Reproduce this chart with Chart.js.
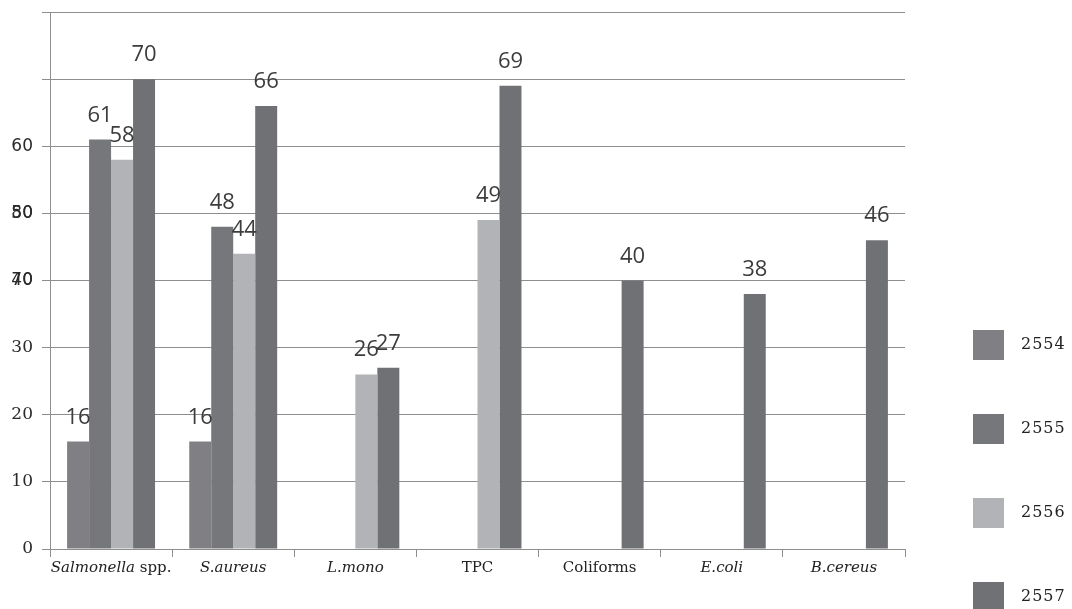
<!DOCTYPE html>
<html>
<head>
<meta charset="utf-8">
<script src="https://cdn.jsdelivr.net/npm/chart.js@4/dist/chart.umd.min.js"></script>
<style>
  html, body { margin: 0; padding: 0; background: #fff; overflow: hidden; }
  #wrap { width: 1072px; height: 609px; position: relative; }
</style>
</head>
<body>
<div id="wrap"><canvas id="myChart"></canvas></div>
<script>
// categories (italic part is the species name, the rest is roman)
const categories = ["Salmonella spp.", "S.aureus", "L.mono", "TPC", "Coliforms", "E.coli", "B.cereus"];
const italicParts = ["Salmonella", "S.aureus", "L.mono", "", "", "E.coli", "B.cereus"];

// series values, one array per year
const years = ["2554", "2555", "2556", "2557"];
const v2554 = [16, 16, null, null, null, null, null];
const v2555 = [61, 48, null, null, null, null, null];
const v2556 = [58, 44, 26, 49, null, null, null];
const v2557 = [70, 66, 27, 69, 40, 38, 46];
const barColors = ["#808084", "#76777b", "#b2b3b6", "#707175"];

// y axis: labels shown up to 60, plus the two stray labels printed over 40 and 50
const yMax = 80;
const yStep = 10;
const yLastLabel = 60;
const strayLabels = ["70", "80"];
const strayAt = [40, 50];

const gridColor = "#8e8e8e";
const serif = "'DejaVu Serif', serif";
const sans = "'DejaVu Sans', sans-serif";

// numbers on top of the bars
const valueLabels = {
  id: "valueLabels",
  afterDatasetsDraw(chart) {
    const ctx = chart.ctx;
    ctx.save();
    ctx.font = "22px 'Open Sans', sans-serif";
    ctx.fillStyle = "#3c3c3c";
    ctx.textAlign = "center";
    ctx.textBaseline = "alphabetic";
    chart.data.datasets.forEach((ds, i) => {
      chart.getDatasetMeta(i).data.forEach((bar, j) => {
        if (ds.data[j] == null) return;
        ctx.fillText(ds.data[j], bar.x, bar.y - 18);
      });
    });
    ctx.restore();
  }
};

// category names with mixed italic / roman, and the stray y labels
const axisText = {
  id: "axisText",
  afterDraw(chart) {
    const ctx = chart.ctx;
    const xs = chart.scales.x;
    const ys = chart.scales.y;
    ctx.save();
    ctx.fillStyle = "#222";
    ctx.textBaseline = "middle";
    ctx.textAlign = "left";
    const it = "italic 15px " + serif;
    const ro = "15px " + serif;
    categories.forEach((name, i) => {
      const ip = italicParts[i];
      const rest = name.slice(ip.length);
      ctx.font = it;
      const w1 = ctx.measureText(ip).width;
      ctx.font = ro;
      const w2 = ctx.measureText(rest).width;
      let x = xs.getPixelForValue(i) - (w1 + w2) / 2;
      const y = xs.top + 19;
      ctx.font = it;
      ctx.fillText(ip, x, y);
      ctx.font = ro;
      ctx.fillText(rest, x + w1, y);
    });

    ctx.fillStyle = "#2a2a2a";
    ctx.textAlign = "right";
    ctx.font = "17px " + sans;
    strayLabels.forEach((t, i) => {
      ctx.fillText(t, ys.right - 17, ys.getPixelForValue(strayAt[i]));
    });
    ctx.restore();
  }
};

// legend on the right, items spread far apart
const sideLegend = {
  id: "sideLegend",
  afterDraw(chart) {
    const ctx = chart.ctx;
    const area = chart.chartArea;
    const bx = area.right + 68;
    const top = 330;
    const gap = 84;
    ctx.save();
    ctx.textBaseline = "middle";
    ctx.textAlign = "left";
    ctx.font = "16px " + serif;
    ctx.letterSpacing = "1px";
    chart.data.datasets.forEach((ds, i) => {
      const y = top + i * gap;
      ctx.fillStyle = ds.backgroundColor;
      ctx.fillRect(bx, y, 31, 30);
      ctx.fillStyle = "#222";
      ctx.fillText(ds.label, bx + 48, y + 15);
    });
    ctx.restore();
  }
};

const seriesValues = [v2554, v2555, v2556, v2557];
const datasets = years.map((y, i) => ({
  label: y,
  data: seriesValues[i],
  backgroundColor: barColors[i],
  borderWidth: 0,
  barPercentage: 1.0,
  categoryPercentage: 0.72
}));

const ctx = document.getElementById("myChart").getContext("2d");
const myChart = new Chart(ctx, {
  type: "bar",
  data: { labels: categories, datasets: datasets },
  options: {
    responsive: true,
    maintainAspectRatio: false,
    animation: false,
    layout: { padding: { top: 12, right: 167, left: 0, bottom: 0 } },
    plugins: {
      legend: { display: false },
      tooltip: { enabled: false }
    },
    scales: {
      x: {
        grid: { drawOnChartArea: false, drawTicks: true, tickLength: 8, color: gridColor, offset: true },
        border: { color: gridColor },
        ticks: { callback: () => "" },
        afterFit: s => { s.height = 60; s.paddingLeft = 0; s.paddingRight = 0; }
      },
      y: {
        min: 0,
        max: yMax,
        ticks: {
          stepSize: yStep,
          padding: 9,
          color: "#2a2a2a",
          font: c => ({ family: (c.tick && c.tick.value >= 40) ? sans : serif, size: 17 }),
          callback: v => (v <= yLastLabel ? v : "")
        },
        grid: { color: gridColor, tickLength: 8 },
        border: { color: gridColor },
        afterFit: s => { s.width = 50; s.paddingTop = 0; s.paddingBottom = 0; }
      }
    }
  },
  plugins: [valueLabels, axisText, sideLegend]
});
</script>
</body>
</html>
